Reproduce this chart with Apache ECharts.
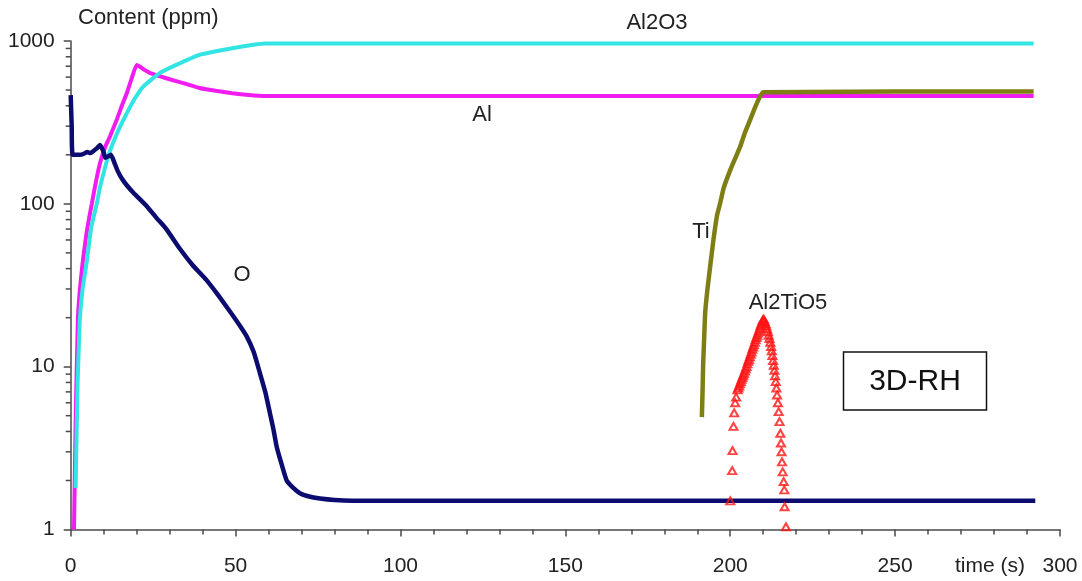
<!DOCTYPE html>
<html><head><meta charset="utf-8">
<script src="https://cdn.jsdelivr.net/npm/echarts@6/dist/echarts.min.js"></script>
<style>html,body{margin:0;padding:0;background:#fff}#c{width:1082px;height:581px}</style>
</head><body><div id="c"></div>
<script>
// ---- axis ticks ----
const xTicks = [0, 50, 100, 150, 200, 250, 300];
const yTicks = [1, 10, 100, 1000];
const yMinorTicks = [2,3,4,5,6,7,8,9,20,30,40,50,60,70,80,90,200,300,400,500,600,700,800,900];

// ---- Al (magenta) ----
const alTime  = [1.0, 1.3, 1.6, 1.9, 2.2, 2.8, 3.6, 4.6, 5.5, 6.4, 7.6, 8.9, 10.5, 12, 14, 15.5, 17, 18.5, 20, 21, 22.5, 24, 27, 30, 35, 39, 44, 49, 54, 59, 62, 292];
const alValue = [1, 2.5, 6, 11, 20, 30, 43, 62, 80, 100, 135, 178, 225, 262, 330, 400, 478, 590, 713, 695, 662, 637, 608, 582, 545, 515, 495, 478, 466, 459, 460, 460];

// ---- Al2O3 (cyan) ----
const al2o3Time  = [1.5, 1.8, 2.1, 2.5, 2.8, 3.6, 4.8, 6.1, 7.0, 7.9, 8.8, 9.8, 11.5, 14, 17, 19.5, 22, 27, 32, 39, 44, 49, 55, 59, 292];
const al2o3Value = [1.8, 4, 8, 14, 20, 30, 43, 69, 84, 100, 124, 150, 200, 270, 360, 445, 525, 635, 713, 822, 865, 903, 945, 965, 965];

// ---- O (navy) ----
const oTime  = [0, 0.3, 0.6, 2.8, 4, 5, 6, 7, 7.9, 8.9, 9.9, 10.5, 11.3, 12.2, 13.2, 14.2, 15.5, 17, 19, 23, 26, 29, 33.1, 37, 41.2, 45, 48.3, 51, 53.4, 55.5, 57.4, 59, 60.4, 61.5, 62.5, 64, 65.5, 67.5, 69.5, 72, 75.6, 80, 90, 292.5];
const oValue = [465, 300, 200, 200, 203, 208, 205, 212, 219, 230, 210, 192, 195, 200, 180, 160, 143, 130, 117, 97, 82, 70, 53, 42, 34, 27, 21.8, 18.2, 15.3, 12.3, 9.1, 7, 5.2, 4.1, 3.2, 2.5, 2.0, 1.8, 1.67, 1.6, 1.55, 1.52, 1.5, 1.5];

// ---- Ti (olive) ----
const tiTime  = [191.4, 191.6, 191.8, 192.1, 192.4, 193.1, 193.9, 194.9, 196, 196.9, 198, 200, 201.5, 203, 204.5, 206, 207.5, 209, 210, 292];
const tiValue = [4.9, 7, 10.5, 15, 21.4, 30, 41, 60, 85, 100, 125, 161, 190, 224, 275, 327, 390, 455, 485, 490];

// ---- Al2TiO5 (red triangles) ----
const atTime  = [200.0, 200.6, 200.7, 201.0, 201.2, 201.5, 201.8,
                 202.2, 202.45, 202.7, 202.95, 203.2, 203.45, 203.7, 203.95, 204.2, 204.45, 204.7, 204.95, 205.2, 205.45, 205.7, 205.95,
                 206.2, 206.45, 206.7, 206.95, 207.2, 207.45, 207.7, 207.95, 208.2, 208.45, 208.7, 208.95, 209.2, 209.45, 209.7, 209.95, 210.15,
                 210.4, 210.65, 210.9, 211.15, 211.4, 211.65, 211.9, 212.15, 212.4, 212.6, 212.8, 213.0, 213.2, 213.4, 213.6, 213.8, 214.0,
                 214.2, 214.45, 214.7, 214.95, 215.2, 215.4, 215.55, 215.7, 215.9, 216.2, 216.4, 216.5, 216.9];
const atValue = [1.5, 2.3, 3.05, 4.3, 5.2, 6.0, 6.5,
                 7.2, 7.4, 7.6, 7.85, 8.1, 8.35, 8.6, 8.85, 9.1, 9.4, 9.7, 10.0, 10.4, 10.8, 11.1, 11.5,
                 11.9, 12.3, 12.8, 13.2, 13.6, 14.1, 14.6, 15.1, 15.6, 16.1, 16.6, 17.2, 17.8, 18.3, 18.9, 19.4, 19.6,
                 19.0, 18.4, 17.8, 17.1, 16.4, 15.6, 14.9, 14.1, 13.3, 12.5, 11.7, 10.9, 10.2, 9.5, 8.8, 8.1, 7.4,
                 6.7, 6.0, 5.3, 4.6, 3.9, 3.4, 3.0, 2.6, 2.26, 1.97, 1.75, 1.38, 1.04];

const pairs = (t, v) => t.map((x, i) => [x, v[i]]);
const FONT = '"Liberation Sans", Arial, sans-serif';
const AXIS_COLOR = '#4a4a4a';
const TEXT_COLOR = '#222';

const chart = echarts.init(document.getElementById('c'));
const lineBase = { type: 'line', showSymbol: false, smooth: 0.15 };
chart.setOption({
  backgroundColor: '#fff',
  animation: false,
  grid: { left: 70.7, right: 22, top: 41, bottom: 51.5, containLabel: false },
  xAxis: {
    type: 'value', min: xTicks[0], max: xTicks[xTicks.length - 1], interval: 50,
    axisLine: { show: true, lineStyle: { color: AXIS_COLOR, width: 1.5 } },
    axisTick: { show: true, length: 7, lineStyle: { color: AXIS_COLOR, width: 1.5 } },
    minorTick: { show: true, splitNumber: 5, length: 5, lineStyle: { color: AXIS_COLOR, width: 1.5 } },
    axisLabel: { fontFamily: FONT, fontSize: 21, color: TEXT_COLOR, margin: 26 },
    splitLine: { show: false }
  },
  yAxis: {
    type: 'log', logBase: 10, min: yTicks[0], max: yTicks[yTicks.length - 1],
    axisLine: { show: true, lineStyle: { color: AXIS_COLOR, width: 1.5 } },
    axisTick: { show: true, length: 7, lineStyle: { color: AXIS_COLOR, width: 1.5 } },
    axisLabel: { fontFamily: FONT, fontSize: 21, color: TEXT_COLOR, margin: 16, formatter: v => String(Math.round(v)) },
    splitLine: { show: false }
  },
  series: [
    {
      type: 'custom', name: 'yMinor', silent: true, clip: false, z: 1,
      data: yMinorTicks.map(v => [0, v]),
      renderItem: function (params, api) {
        const p = api.coord([0, api.value(1)]);
        return { type: 'line', shape: { x1: p[0] - 5, y1: p[1], x2: p[0], y2: p[1] },
                 style: { stroke: AXIS_COLOR, lineWidth: 1.5 } };
      }
    },
    Object.assign({ name: 'Al', data: pairs(alTime, alValue), lineStyle: { color: '#f01cf0', width: 4 }, z: 3 }, lineBase),
    Object.assign({ name: 'Al2O3', data: pairs(al2o3Time, al2o3Value), lineStyle: { color: '#33e4e4', width: 4 }, z: 4 }, lineBase),
    Object.assign({ name: 'O', data: pairs(oTime, oValue), lineStyle: { color: '#0c0c70', width: 4.5 }, z: 5 }, lineBase),
    Object.assign({ name: 'Ti', data: pairs(tiTime, tiValue), lineStyle: { color: '#7e7e14', width: 4.5 }, z: 6 }, lineBase),
    { name: 'Al2TiO5', type: 'scatter', data: pairs(atTime, atValue), symbol: 'triangle', symbolSize: [8, 7],
      itemStyle: { color: 'rgba(255,255,255,0)', borderColor: '#ff1414', borderWidth: 2 }, z: 7 }
  ],
  graphic: [
    { type: 'text', left: 78, top: 7, style: { text: 'Content (ppm)', font: '22px ' + FONT, fill: TEXT_COLOR } },
    { type: 'text', x: 657, y: 22.5, style: { text: 'Al2O3', font: '22px ' + FONT, fill: TEXT_COLOR, align: 'center', verticalAlign: 'middle' } },
    { type: 'text', x: 482, y: 115, style: { text: 'Al', font: '22px ' + FONT, fill: TEXT_COLOR, align: 'center', verticalAlign: 'middle' } },
    { type: 'text', x: 242, y: 275, style: { text: 'O', font: '22px ' + FONT, fill: TEXT_COLOR, align: 'center', verticalAlign: 'middle' } },
    { type: 'text', x: 701, y: 232, style: { text: 'Ti', font: '22px ' + FONT, fill: TEXT_COLOR, align: 'center', verticalAlign: 'middle' } },
    { type: 'text', x: 788, y: 303, style: { text: 'Al2TiO5', font: '22px ' + FONT, fill: TEXT_COLOR, align: 'center', verticalAlign: 'middle' } },
    { type: 'text', x: 990, y: 566, style: { text: 'time (s)', font: '21px ' + FONT, fill: TEXT_COLOR, align: 'center', verticalAlign: 'middle' } },
    { type: 'rect', shape: { x: 843.5, y: 352, width: 143, height: 58 }, style: { fill: '#fff', stroke: '#111', lineWidth: 1.5 } },
    { type: 'text', x: 915, y: 382, style: { text: '3D-RH', font: '30px ' + FONT, fill: '#111', align: 'center', verticalAlign: 'middle' } }
  ]
});
</script>
</body></html>
